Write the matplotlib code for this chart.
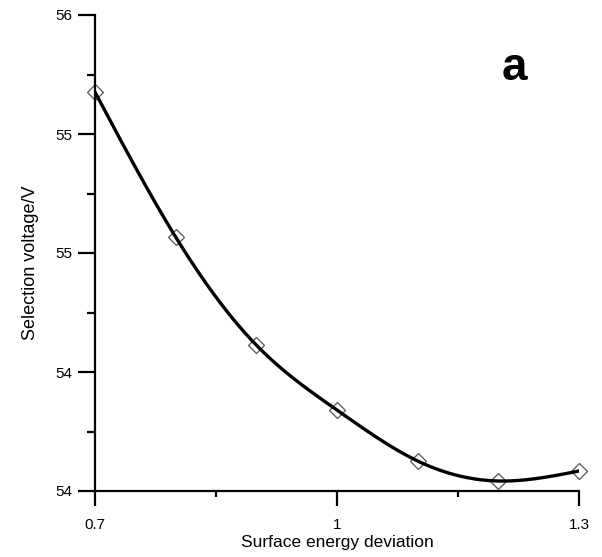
import numpy as np
import matplotlib
matplotlib.use("Agg")
import matplotlib.pyplot as plt

plt.rcParams['font.family'] = ['Liberation Sans', 'DejaVu Sans']

# data
x_vals = [0.7, 0.8, 0.9, 1.0, 1.1, 1.2, 1.3]
y_vals = [55.676, 55.067, 54.613, 54.340, 54.126, 54.042, 54.084]
x_ticks = [0.7, 1.0, 1.3]
x_tick_labels = ["0.7", "1", "1.3"]
x_minor = [0.85, 1.15]
y_ticks = [54.0, 54.5, 55.0, 55.5, 56.0]
y_tick_labels = ["54", "54", "55", "55", "56"]
y_minor = [54.25, 54.75, 55.25, 55.75]


def natural_spline(x, y, xs):
    x = np.asarray(x, float); y = np.asarray(y, float)
    n = len(x)
    h = np.diff(x)
    A = np.zeros((n, n)); b = np.zeros(n)
    A[0, 0] = 1; A[-1, -1] = 1
    for i in range(1, n - 1):
        A[i, i - 1] = h[i - 1]
        A[i, i] = 2 * (h[i - 1] + h[i])
        A[i, i + 1] = h[i]
        b[i] = 3 * ((y[i + 1] - y[i]) / h[i] - (y[i] - y[i - 1]) / h[i - 1])
    c = np.linalg.solve(A, b)
    out = np.empty_like(xs)
    for k, xv in enumerate(xs):
        i = min(max(np.searchsorted(x, xv) - 1, 0), n - 2)
        dx = xv - x[i]
        bi = (y[i + 1] - y[i]) / h[i] - h[i] * (2 * c[i] + c[i + 1]) / 3
        di = (c[i + 1] - c[i]) / (3 * h[i])
        out[k] = y[i] + bi * dx + c[i] * dx ** 2 + di * dx ** 3
    return out


fig = plt.figure(figsize=(6.02, 5.57), dpi=100)
ax = fig.add_axes([95 / 602, 1 - 491 / 557, (579 - 95) / 602, (491 - 15) / 557])

xs = np.linspace(x_vals[0], x_vals[-1], 300)
ax.plot(xs, natural_spline(x_vals, y_vals, xs), color='black', lw=2.4, zorder=3)
ax.plot(x_vals, y_vals, linestyle='none', marker='D', markersize=8,
        markerfacecolor='white', markeredgecolor='#555555', markeredgewidth=0.9,
        zorder=2, clip_on=False)

ax.set_xlim(0.7, 1.3)
ax.set_ylim(54.0, 56.0)
for s in ['top', 'right']:
    ax.spines[s].set_visible(False)
for s in ['left', 'bottom']:
    ax.spines[s].set_linewidth(1.6)

ax.set_xticks(x_ticks)
ax.set_xticklabels(x_tick_labels)
ax.set_xticks(x_minor, minor=True)
ax.set_yticks(y_ticks)
ax.set_yticklabels(y_tick_labels)
ax.set_yticks(y_minor, minor=True)

ax.tick_params(axis='x', which='major', direction='out', length=10.5, width=1.6, pad=9, labelsize=11)
ax.tick_params(axis='x', which='minor', direction='out', length=4.5, width=1.6)
ax.tick_params(axis='y', which='major', direction='out', length=12, width=1.6, pad=4, labelsize=11)
ax.tick_params(axis='y', which='minor', direction='out', length=6, width=1.6)

ax.set_xlabel('Surface energy deviation', fontsize=12.5, labelpad=2)
ax.set_ylabel('Selection voltage/V', fontsize=13)
ax.yaxis.set_label_coords(-0.115, 0.48)

ax.text(514 / 602, 1 - 68 / 557, 'a', transform=fig.transFigure, fontsize=33,
        fontweight='bold', ha='center', va='center')

fig.savefig('out.png', dpi=100)
